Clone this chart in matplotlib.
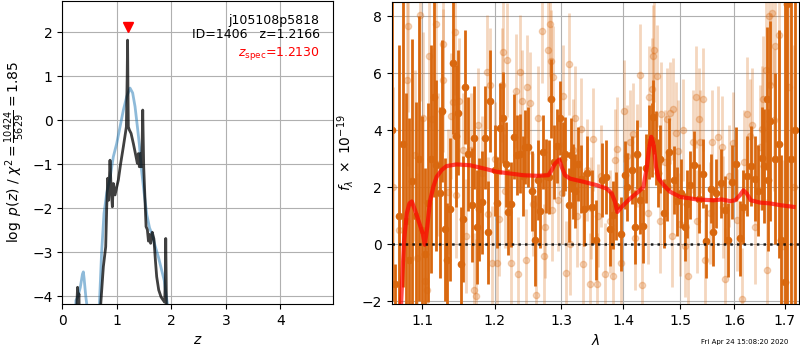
import numpy as np
import matplotlib
matplotlib.use('Agg')
import matplotlib.pyplot as plt
from matplotlib.ticker import NullLocator

# p(z) curves (NaN breaks the line)
zb = [0.25, 0.27, 0.28, 0.295, 0.305, 0.32, np.nan,
      0.69, 0.704, 0.753, 0.796, 0.815, 0.833, 0.85, 0.875, 0.894, 0.918,
      0.936, 0.967, 0.998, 1.028, 1.071, 1.12, 1.157, 1.175, 1.19, 1.197,
      1.205, 1.211, 1.229, 1.261, 1.303, 1.352, 1.376, 1.395, 1.413, 1.431,
      1.45, 1.465, 1.475, 1.485, 1.493, 1.517, 1.536, 1.56, 1.58, 1.60,
      1.62, 1.65, 1.68, 1.707, 1.731, 1.768, 1.811, 1.854, 1.878, 1.89,
      1.897, 1.905, 1.915]
pb = [-5.0, -4.1, -3.8, -4.1, -3.95, -5.0, np.nan,
      -5.0, -4.2, -3.33, -2.88, -1.97, -1.32, -1.82, -0.91, -1.51, -1.97,
      -1.44, -1.70, -1.52, -1.36, -0.98, -0.60, -0.30, -0.15, 1.0, 1.82,
      0.6, -0.15, -0.22, -0.30, -0.53, -0.83, -0.98, -0.76, -1.06, -0.76,
      -1.06, -0.5, 0.23, -0.5, -1.06, -1.82, -2.42, -2.49, -2.75, -2.6,
      -2.8, -2.55, -2.7, -3.18, -3.56, -3.86, -4.02, -4.1, -4.14, -3.5,
      -2.69, -3.6, -5.0]

zs = [0.22, 0.25, 0.29, 0.33, 0.37, 0.386, 0.40, 0.43, 0.46, 0.48, np.nan,
      0.66, 0.68, 0.72, 0.765, 0.814, 0.875, 0.936, 0.998, 1.059, 1.12,
      1.18, 1.242, 1.29, 1.334, 1.377, 1.413, 1.45, 1.50, 1.55, 1.60,
      1.65, 1.70, 1.76, 1.82, 1.87, 1.90, 1.93, 1.95]
ps = [-5.0, -4.1, -4.0, -3.8, -3.5, -3.45, -3.6, -4.0, -4.3, -5.0, np.nan,
      -5.0, -4.2, -3.03, -2.12, -1.66, -1.32, -0.83, -0.53, -0.15, 0.23,
      0.53, 0.73, 0.62, 0.31, -0.15, -0.55, -1.1, -1.65, -2.15, -2.45,
      -2.6, -2.85, -3.1, -3.4, -3.65, -3.94, -4.2, -5.0]

zspec = 1.2130

# spectrum, first set (solid)
wd = [1.0612, 1.0644, 1.0690, 1.0754, 1.0790, 1.0830, 1.0870, 1.0920,
      1.0960, 1.1000, 1.1034, 1.1080, 1.1120, 1.1157, 1.1187, 1.1230,
      1.1267, 1.1306, 1.1333, 1.1372, 1.1413, 1.1453, 1.1479, 1.1524,
      1.1555, 1.1582, 1.1624, 1.1672, 1.1709, 1.1742, 1.1780, 1.1823,
      1.1865, 1.1899, 1.1937, 1.2000, 1.2038, 1.2077, 1.2116, 1.2160,
      1.2198, 1.2233, 1.2282, 1.2322, 1.2371, 1.2411, 1.2446, 1.2495,
      1.2555, 1.2601, 1.2647, 1.2677, 1.2723, 1.2770, 1.2810, 1.2845,
      1.2890, 1.2934, 1.2976, 1.3020, 1.3064, 1.3116, 1.3153, 1.3190,
      1.3221, 1.3265, 1.3307, 1.3365, 1.3413,
      1.3484, 1.3554, 1.3647, 1.3718, 1.3784, 1.3839, 1.3884, 1.3962,
      1.4035, 1.4074, 1.4148, 1.4204, 1.4243, 1.4290, 1.4336, 1.4393,
      1.4450, 1.4492, 1.4520, 1.4567, 1.4600, 1.4637, 1.4707, 1.4760,
      1.4801, 1.4885, 1.4944, 1.5006, 1.5084, 1.5115, 1.5175, 1.5248,
      1.5330, 1.5408, 1.5469, 1.5557, 1.5605, 1.5656, 1.5745, 1.5827,
      1.5879, 1.5954, 1.6031, 1.6114, 1.6178, 1.6256, 1.6323, 1.6407,
      1.6473, 1.6540, 1.6586, 1.6640, 1.6672, 1.6706, 1.6807, 1.6894,
      1.6922, 1.7004, 1.7058, 1.7134, 1.7217]
fd = [4.0, -1.40, 1.0, 3.51, 0.8, -0.56, 2.2, 1.0,
      3.0, 0.5, -0.33, 1.46, 3.0, 5.16, 2.77, 1.8,
      4.67, 0.52, -0.56, 1.22, 6.35, 3.79, 4.62, -0.68,
      0.88, 5.53, 3.18, 1.37, 3.74, 0.60, 1.22, 1.47,
      3.74, 0.41, 5.02, 2.6, 1.46, 4.06, 4.44, 2.8,
      1.13, 1.40, 3.77, 3.12, 3.18, 2.39, 3.41, 3.41,
      1.87, 0.14, 2.25, 1.17, 3.23, 2.4, 2.35, 5.11,
      2.9, 3.45, 4.43, 3.0, 3.15, 1.37, 3.12, 2.2,
      1.87, 2.8, 2.28, 1.22, 2.50,
      1.31, 0.14, 2.25, 2.37, 0.55, 1.02, 1.33, 0.37,
      2.42, 2.0, 2.6, 0.61, 3.15, 1.54, 0.64, 2.66,
      3.6, 3.65, 4.47, 3.36, 2.5, 3.0, 1.08, 2.0,
      3.23, 2.25, 1.5, 1.78, 0.61, 1.40, 2.07, 2.77,
      1.6, 2.48, 0.12, 1.95, 0.43, 1.78, 2.13, 1.19,
      0.15, 2.18, 2.8, 0.2, 1.31, 2.39, 2.75, 2.3,
      1.87, 3.01, 2.74, 5.11, 2.25, 4.33, 3.0, 3.51,
      0.14, -1.32, 8.42, 3.0, 4.0]
ed = [6.0, 0.7, 6.0, 5.0, 4.5, 5.0, 5.0, 4.0,
      5.0, 4.0, 3.0, 3.5, 4.0, 3.5, 3.0, 3.0,
      2.5, 2.5, 2.0, 2.5, 2.5, 2.5, 2.2, 2.0,
      2.2, 2.0, 2.0, 2.0, 1.8, 2.0, 1.8, 1.8,
      1.8, 1.8, 1.8, 1.6, 1.6, 1.6, 1.6, 1.5,
      1.5, 1.5, 1.5, 1.4, 1.4, 1.4, 1.3, 1.4,
      1.4, 1.6, 1.4, 1.3, 1.3, 1.3, 1.3, 1.4,
      1.3, 1.3, 1.3, 1.3, 1.3, 1.3, 1.3, 1.3,
      1.3, 1.3, 1.2, 1.3, 1.3,
      1.3, 1.4, 1.3, 1.3, 1.3, 1.2, 1.2, 1.3,
      1.2, 1.2, 1.2, 1.3, 1.2, 1.2, 1.3, 1.2,
      1.3, 1.3, 1.3, 1.3, 1.2, 1.2, 1.2, 1.2,
      1.2, 1.2, 1.2, 1.2, 1.2, 1.2, 1.2, 1.2,
      1.2, 1.2, 1.3, 1.2, 1.2, 1.2, 1.2, 1.2,
      1.3, 1.3, 1.3, 1.3, 1.3, 1.4, 1.4, 1.5,
      1.6, 1.8, 2.0, 2.5, 2.5, 3.5, 3.0, 4.0,
      3.0, 12.0, 12.0, 12.0, 12.0]

# spectrum, second set (faint)
wl = [1.0620, 1.0700, 1.0795, 1.0817, 1.0905, 1.0930, 1.0970, 1.1005,
      1.1035, 1.1057, 1.1092, 1.1130, 1.1183, 1.1210, 1.1273, 1.1281,
      1.1349, 1.1382, 1.1418, 1.1441, 1.1455, 1.1500, 1.1550, 1.1600,
      1.1659, 1.1700, 1.1733, 1.1760, 1.1820, 1.1885, 1.1909, 1.1933,
      1.1960, 1.2000, 1.2038, 1.2060, 1.2100, 1.2125, 1.2150, 1.2183,
      1.2240, 1.2312, 1.2340, 1.2371, 1.2396, 1.2460, 1.2480, 1.2520,
      1.2560, 1.2610, 1.2647, 1.2709, 1.2725, 1.2745, 1.2786, 1.2818,
      1.2843, 1.2855, 1.2867, 1.2950, 1.3010, 1.3032, 1.3080, 1.3116,
      1.3135, 1.3180, 1.3221, 1.3250, 1.3312, 1.3350, 1.3400, 1.3456,
      1.3467,
      1.3500, 1.3575, 1.3592, 1.3640, 1.3701, 1.3784, 1.3839, 1.3867,
      1.3905, 1.3962, 1.4022, 1.4063, 1.4119, 1.4165, 1.4204, 1.4243,
      1.4290, 1.4319, 1.4432, 1.4450, 1.4492, 1.4509, 1.4532, 1.4579,
      1.4637, 1.4649, 1.4725, 1.4766, 1.4814, 1.4850, 1.4873, 1.4921,
      1.4963, 1.4993, 1.5054, 1.5084, 1.5145, 1.5230, 1.5285, 1.5303,
      1.5330, 1.5358, 1.5408, 1.5451, 1.5544, 1.5576, 1.5700, 1.5764,
      1.5794, 1.5827, 1.5900, 1.5986, 1.6050, 1.6147, 1.6200, 1.6244,
      1.6309, 1.6342, 1.6407, 1.6506, 1.6540, 1.6572, 1.6626, 1.6652,
      1.6692, 1.6706, 1.6740, 1.6787, 1.6807, 1.6894, 1.6977, 1.7092,
      1.7196]
fl = [2.0, 0.5, 5.75, 7.65, 3.12, -0.5, 8.03, 4.44,
      -1.3, -1.6, 6.6, 4.4, 7.74, 2.8, 7.02, 5.75,
      1.84, 4.5, 5.0, 7.45, 1.72, 5.03, 3.3, 0.3,
      3.3, -1.6, -1.82, 4.2, 2.5, 6.05, 1.05, 5.6,
      -0.65, 3.0, -0.65, 0.9, 5.59, 6.75, 1.86, 6.48,
      -0.65, 5.38, -1.05, 6.05, 5.02, -0.56, 5.53, 4.96,
      1.4, -1.79, 4.44, 7.47, -0.4, 0.6, 6.83, 7.72,
      6.43, 1.2, 5.87, 1.55, 1.8, 5.2, -1.0, 6.32,
      0.0, 3.3, 4.44, 1.0, 4.05, -0.7, 2.6, -1.4,
      1.27,
      3.68, -1.4, 1.0, 2.4, -1.05, 0.8, -1.1, 2.96,
      3.35, -0.65, 4.67, 3.1, 3.6, 3.85, 0.2, 3.12,
      5.93, -1.45, 1.1, 5.17, 5.44, 6.6, 6.8, 5.9,
      0.8, 4.58, 2.9, 4.38, 4.6, 0.3, 4.75, 3.9,
      3.26, 0.7, 4.0, -0.05, -1.1, 3.6, 5.17, 0.8,
      4.4, 3.6, 5.08, -0.57, 1.1, 3.6, 3.75, 3.4,
      1.3, -1.24, 2.4, 3.55, 0.85, -1.92, 2.9, 4.58,
      3.8, 4.2, 0.6, 3.4, 4.05, 5.1, 6.1, -0.9,
      8.0, 5.6, 8.1, 4.36, 6.95, 7.35, -0.05, 5.5,
      2.0]
el = [3.5, 3.5, 3.0, 3.0, 3.0, 3.0, 3.0, 3.0,
      2.5, 2.5, 2.5, 2.5, 2.5, 2.5, 2.5, 2.5,
      2.2, 2.2, 2.2, 2.2, 2.2, 2.2, 2.0, 2.0,
      2.0, 2.0, 2.0, 2.0, 2.0, 2.0, 2.0, 2.0,
      2.0, 2.0, 2.0, 2.0, 2.0, 2.0, 2.0, 2.0,
      2.0, 2.0, 2.0, 2.0, 1.8, 1.8, 1.8, 1.8,
      1.8, 1.8, 1.8, 1.8, 1.8, 1.8, 1.8, 1.8,
      1.8, 1.8, 1.8, 1.8, 1.8, 1.8, 1.8, 1.8,
      1.8, 1.8, 1.8, 1.8, 1.8, 1.8, 1.8, 1.8,
      1.8,
      1.8, 1.8, 1.8, 1.8, 1.8, 1.8, 1.8, 1.8,
      1.8, 1.8, 1.8, 1.8, 1.8, 1.8, 1.8, 1.8,
      1.8, 1.8, 1.8, 1.8, 1.8, 1.8, 1.8, 1.8,
      1.8, 1.8, 1.8, 1.8, 1.8, 1.8, 1.8, 1.8,
      1.8, 1.8, 1.8, 1.8, 1.8, 1.8, 1.8, 1.8,
      1.8, 1.8, 1.8, 1.8, 1.8, 1.8, 1.8, 1.8,
      1.8, 1.8, 1.8, 1.8, 1.8, 1.8, 1.8, 2.0,
      2.0, 2.0, 2.0, 2.2, 2.2, 2.2, 2.5, 2.5,
      2.5, 2.5, 2.5, 2.5, 2.5, 3.0, 3.0, 4.0,
      5.0]

# best-fit model
wm = [1.0703, 1.0723, 1.0762, 1.0797, 1.0831, 1.0862, 1.0905, 1.0948,
      1.1005, 1.1034, 1.1066, 1.1102, 1.1146, 1.1191, 1.1258, 1.1325,
      1.1462, 1.1649, 1.1838, 1.2031, 1.2223, 1.2420, 1.2621, 1.2799,
      1.2851, 1.2902, 1.2969, 1.3006, 1.3058, 1.3137, 1.3350, 1.3565,
      1.3729, 1.3812, 1.3867, 1.3905, 1.3978, 1.4119, 1.4261, 1.4348,
      1.4407, 1.4448, 1.4483, 1.4524, 1.4567, 1.4613, 1.4702, 1.4814,
      1.4993, 1.5297, 1.5605, 1.5764, 1.5922, 1.6017, 1.6114, 1.6179,
      1.6244, 1.6323, 1.6506, 1.6706, 1.6908, 1.7183]
fm = [-3.0, -2.1, 0.14, 1.08, 1.43, 1.50, 1.19, 0.84,
      0.38, -0.02, 0.61, 1.5, 2.01, 2.36, 2.60, 2.74,
      2.80, 2.77, 2.66, 2.54, 2.48, 2.42, 2.40, 2.42,
      2.60, 2.83, 2.97, 2.71, 2.42, 2.30, 2.19, 2.07,
      1.95, 1.78, 1.48, 1.13, 1.31, 1.60, 1.84, 2.01,
      2.71, 3.4, 3.77, 3.5, 2.71, 2.30, 2.07, 1.84,
      1.66, 1.57, 1.54, 1.57, 1.51, 1.54, 1.72, 1.89,
      1.78, 1.54, 1.46, 1.43, 1.37, 1.31]

wave_ticks = [1.1, 1.2, 1.3, 1.4, 1.5, 1.6, 1.7]

orange = '#d9680f'


def plot_pz(ax):
    ax.plot(zs, ps, color='tab:blue', alpha=0.5, lw=2)
    ax.plot(zb, pb, color='k', alpha=0.75, lw=2)
    ax.plot(zspec, 2.11, marker='v', color='red', ms=7, ls='none')

    ax.text(0.95, 0.937, 'j105108p5818', ha='right', va='center',
            fontsize=9, transform=ax.transAxes)
    ax.text(0.95, 0.89, 'ID=1406   z=1.2166', ha='right', va='center',
            fontsize=9, transform=ax.transAxes)
    ax.text(0.95, 0.828, r'$z_\mathrm{spec}$=%.4f' % zspec, ha='right',
            va='center', fontsize=9, color='red', transform=ax.transAxes)

    ax.set_xlim(0, 4.97)
    ax.set_ylim(-4.18, 2.71)
    ax.set_xticks([0, 1, 2, 3, 4])
    ax.set_yticks([-4, -3, -2, -1, 0, 1, 2])
    ax.set_xlabel('$z$')
    ax.set_ylabel(r'$\log\ p(z)$ / $\chi^2=\frac{10424}{5629}=1.85$')
    ax.grid()


def plot_spec(ax):
    ax.errorbar(wl, fl, yerr=el, color=orange, alpha=0.27, marker='o',
                ms=4.5, ls='none', elinewidth=2, capsize=0)
    ax.errorbar(wd, fd, yerr=ed, color=orange, marker='o', ms=4.5,
                ls='none', elinewidth=2, capsize=0)
    ax.plot(wm, fm, color='r', alpha=0.7, lw=3, zorder=5)
    ax.axhline(0, color='k', ls=':', lw=1.8, alpha=0.85, zorder=6)

    ax.set_xscale('log')
    ax.set_xlim(1.0603, 1.7297)
    ax.set_ylim(-2.1, 8.5)
    ax.set_xticks(wave_ticks)
    ax.set_xticklabels(['%.1f' % w for w in wave_ticks])
    ax.xaxis.set_minor_locator(NullLocator())
    ax.set_yticks([-2, 0, 2, 4, 6, 8])
    ax.set_xlabel(r'$\lambda$')
    ax.set_ylabel(r'$f_\lambda\ \times\ 10^{-19}$')
    ax.grid()


def main():
    fig = plt.figure(figsize=(8, 3.5), dpi=100)
    ax1 = fig.add_axes([62.3 / 800, 46 / 350, 271 / 800, 303 / 350])
    ax2 = fig.add_axes([391.7 / 800, 46 / 350, 407.3 / 800, 302 / 350])

    plot_pz(ax1)
    plot_spec(ax2)

    fig.text(0.985, 0.015, 'Fri Apr 24 15:08:20 2020', ha='right',
             va='bottom', fontsize=5)

    fig.savefig('out.png', dpi=100)


main()
